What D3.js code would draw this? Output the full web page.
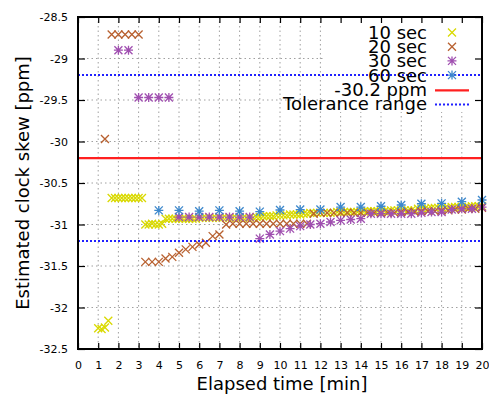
<!DOCTYPE html>
<html><head><meta charset="utf-8">
<script src="https://cdn.jsdelivr.net/npm/d3@7"></script>
<style>html,body{margin:0;padding:0;background:#fff;}svg{display:block;font-family:"DejaVu Sans",sans-serif;}</style>
</head><body>
<svg id="chart" width="489" height="394"></svg>
<script>
// ---- data ----
const seriesNames = ["10 sec", "20 sec", "30 sec", "60 sec"];
const seriesStart = [1.0, 4/3, 2.0, 4.0];          // first sample time [min]
const seriesStep = [1/6, 1/3, 0.5, 1.0];           // sampling interval [min]
const sec10 = [
  -32.25, -32.26, -32.24, -32.16,
  -30.68, -30.68, -30.68, -30.68, -30.68, -30.68, -30.68, -30.68, -30.68, -30.68,
  -31.00, -31.00, -30.99, -31.00, -31.00, -30.99,
  -30.93, -30.93, -30.93, -30.93, -30.93, -30.93, -30.93, -30.93, -30.93, -30.93,
  -30.92, -30.92, -30.92, -30.92, -30.92, -30.92, -30.92, -30.92, -30.92, -30.92, -30.92, -30.92, -30.92, -30.92, -30.92, -30.92, -30.92,
  -30.91, -30.91, -30.90, -30.90, -30.90, -30.90, -30.89, -30.89, -30.89, -30.89, -30.88, -30.88, -30.88, -30.88, -30.87, -30.87,
  -30.86, -30.86, -30.86, -30.86, -30.86, -30.86, -30.86, -30.86,
  -30.85, -30.85, -30.85, -30.85, -30.85, -30.85, -30.85, -30.85,
  -30.84, -30.84, -30.84, -30.84, -30.84, -30.84, -30.84, -30.84,
  -30.83, -30.83, -30.83, -30.83, -30.83, -30.83, -30.83, -30.83,
  -30.81, -30.81, -30.81, -30.81, -30.80, -30.80, -30.80, -30.80, -30.80, -30.80,
  -30.79, -30.79, -30.79, -30.79, -30.79, -30.79, -30.78, -30.78, -30.78, -30.78
];
const sec20 = [
  -29.97,
  -28.71, -28.71, -28.71, -28.71, -28.71,
  -31.45, -31.45, -31.45,
  -31.41, -31.39, -31.34, -31.30, -31.27, -31.24, -31.22, -31.14, -31.12,
  -31.00,
  -30.99, -30.99, -30.99, -30.99, -30.99, -30.99, -30.99, -30.99, -30.99, -30.99, -30.99, -30.99,
  -30.87, -30.86, -30.86, -30.86, -30.86, -30.86, -30.86, -30.86, -30.86, -30.86, -30.86, -30.86, -30.86,
  -30.85, -30.85, -30.85, -30.84, -30.84, -30.84, -30.83, -30.83, -30.82, -30.82, -30.81, -30.81, -30.80
];
const sec30 = [
  -28.90, -28.90,
  -29.47, -29.47, -29.47, -29.47,
  -30.91, -30.91, -30.91, -30.91, -30.91, -30.91, -30.91, -30.91,
  -31.17, -31.12, -31.08, -31.05, -31.02, -31.00, -30.99, -30.97, -30.95, -30.94, -30.93,
  -30.87, -30.87, -30.87, -30.87, -30.87, -30.86, -30.85, -30.85, -30.82, -30.81, -30.81, -30.79
];
const sec60 = [
  -30.83, -30.83, -30.84, -30.83, -30.84, -30.845, -30.825, -30.82, -30.82,
  -30.79, -30.79, -30.78, -30.765, -30.75, -30.745, -30.725, -30.705
];
const referenceValue = -30.2;
const toleranceValues = [-29.2, -31.2];
const xTicks = d3.range(0, 21, 1);
const yTicks = [-32.5, -32, -31.5, -31, -30.5, -30, -29.5, -29, -28.5];
const legendLabels = ["10 sec", "20 sec", "30 sec", "60 sec", "-30.2 ppm", "Tolerance range"];

// ---- layout ----
const colors = ["#d9d900", "#b8602f", "#a04fb0", "#3d88cc"];
const shapes = ["x", "x", "star", "star"];
const L = 78, R = 482, T = 17, B = 349;
const svg = d3.select("#chart");
const x = d3.scaleLinear().domain([0, 20]).range([L, R]);
const y = d3.scaleLinear().domain([-32.5, -28.5]).range([B, T]);

// grid
const grid = svg.append("g").attr("stroke", "#a0a0a0").attr("stroke-width", 1).attr("stroke-dasharray", "1.5,3");
xTicks.filter(d => d > 0 && d < 20).forEach(d => grid.append("line").attr("x1", x(d)).attr("x2", x(d)).attr("y1", T).attr("y2", B));
yTicks.filter(d => d > -32.5 && d < -28.5).forEach(d => grid.append("line").attr("x1", L).attr("x2", R).attr("y1", y(d)).attr("y2", y(d)));

// opaque key box
svg.append("rect").attr("x", 325).attr("y", T + 1).attr("width", R - 325 - 1).attr("height", 94).attr("fill", "#fff");

function marker(g, cx, cy, shape, color) {
  const s = 4;
  const p = g.append("path").attr("stroke", color).attr("stroke-width", 1.3).attr("fill", "none");
  let d = `M${cx - s},${cy - s}L${cx + s},${cy + s}M${cx - s},${cy + s}L${cx + s},${cy - s}`;
  if (shape === "star") d += `M${cx - s - 0.5},${cy}L${cx + s + 0.5},${cy}M${cx},${cy - s - 0.5}L${cx},${cy + s + 0.5}`;
  p.attr("d", d);
}

const allSeries = [sec10, sec20, sec30, sec60];
allSeries.forEach((vals, si) => {
  const g = svg.append("g");
  vals.forEach((v, i) => {
    const t = seriesStart[si] + i * seriesStep[si];
    marker(g, x(t), y(v), shapes[si], colors[si]);
  });
});

// reference and tolerance lines
svg.append("line").attr("x1", L).attr("x2", R).attr("y1", y(referenceValue)).attr("y2", y(referenceValue))
  .attr("stroke", "#ff2020").attr("stroke-width", 2.2);
toleranceValues.forEach(v => svg.append("line").attr("x1", L).attr("x2", R).attr("y1", y(v)).attr("y2", y(v))
  .attr("stroke", "#2020ff").attr("stroke-width", 2).attr("stroke-dasharray", "2,2"));

// axes with inward ticks
const axB = d3.axisBottom(x).tickValues(xTicks).tickSize(-6).tickPadding(12).tickFormat(d3.format("d"));
const axT = d3.axisTop(x).tickValues(xTicks).tickSize(-6).tickFormat("");
const axL = d3.axisLeft(y).tickValues(yTicks).tickSize(-7).tickPadding(10).tickFormat(d => String(d));
const axR = d3.axisRight(y).tickValues(yTicks).tickSize(-7).tickFormat("");
function style(g) {
  g.select(".domain").remove();
  g.selectAll(".tick line").attr("stroke", "#000").attr("stroke-width", 1.2);
  g.selectAll(".tick text").attr("font-family", "DejaVu Sans").attr("font-size", 11).attr("fill", "#000");
}
svg.append("g").attr("transform", `translate(0,${B})`).call(axB).call(style);
svg.append("g").attr("transform", `translate(0,${T})`).call(axT).call(style);
svg.append("g").attr("transform", `translate(${L},0)`).call(axL).call(style);
svg.append("g").attr("transform", `translate(${R},0)`).call(axR).call(style);

// frame
svg.append("rect").attr("x", L).attr("y", T).attr("width", R - L).attr("height", B - T)
  .attr("fill", "none").attr("stroke", "#000").attr("stroke-width", 2);

// legend
const lg = svg.append("g").attr("font-family", "DejaVu Sans").attr("font-size", 18);
legendLabels.forEach((lab, i) => {
  const ry = 32.5 + i * 14.2;
  lg.append("text").attr("x", 427).attr("y", ry + 6.5).attr("text-anchor", "end").text(lab);
  if (i < 4) marker(lg, 452, ry, shapes[i], colors[i]);
  else if (i === 4) lg.append("line").attr("x1", 435).attr("x2", 469).attr("y1", ry + 1).attr("y2", ry + 1).attr("stroke", "#ff2020").attr("stroke-width", 2.2);
  else lg.append("line").attr("x1", 435).attr("x2", 469).attr("y1", ry + 1).attr("y2", ry + 1).attr("stroke", "#2020ff").attr("stroke-width", 2).attr("stroke-dasharray", "2,2");
});

// axis titles
svg.append("text").attr("x", 282).attr("y", 390).attr("text-anchor", "middle").attr("font-size", 18).text("Elapsed time [min]");
svg.append("text").attr("transform", "translate(29,183) rotate(-90)").attr("text-anchor", "middle").attr("font-size", 18).text("Estimated clock skew [ppm]");
</script>
</body></html>
